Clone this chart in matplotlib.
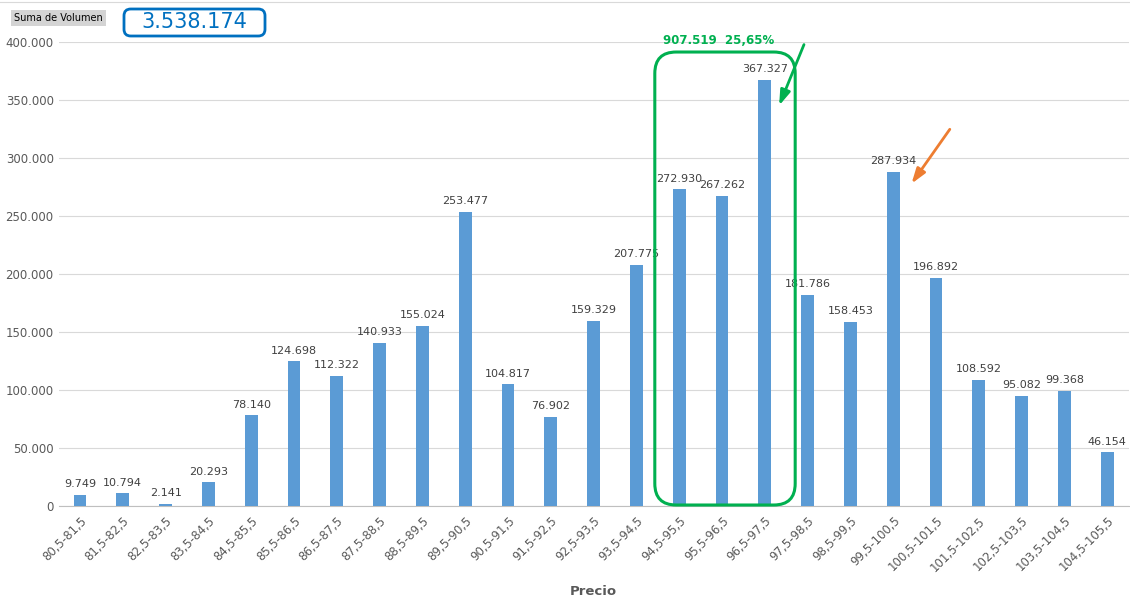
import matplotlib.pyplot as plt
from matplotlib.patches import FancyBboxPatch
from matplotlib.ticker import FuncFormatter

rangos = ['80,5-81,5', '81,5-82,5', '82,5-83,5', '83,5-84,5', '84,5-85,5',
          '85,5-86,5', '86,5-87,5', '87,5-88,5', '88,5-89,5', '89,5-90,5',
          '90,5-91,5', '91,5-92,5', '92,5-93,5', '93,5-94,5', '94,5-95,5',
          '95,5-96,5', '96,5-97,5', '97,5-98,5', '98,5-99,5', '99,5-100,5',
          '100,5-101,5', '101,5-102,5', '102,5-103,5', '103,5-104,5', '104,5-105,5']
volumen = [9749, 10794, 2141, 20293, 78140, 124698, 112322, 140933, 155024, 253477,
           104817, 76902, 159329, 207775, 272930, 267262, 367327, 181786, 158453, 287934,
           196892, 108592, 95082, 99368, 46154]
destacados = [14, 15, 16]


def miles(v):
    return f'{int(round(v)):,}'.replace(',', '.')


total = sum(volumen)
suma_dest = sum(volumen[i] for i in destacados)
pct = f'{suma_dest / total * 100:.2f}'.replace('.', ',')

W, H = 1130, 604
fig = plt.figure(figsize=(W / 100, H / 100), dpi=100)
ax = fig.add_axes([58.6 / W, 1 - 506 / H, 1070 / W, 464 / H])

x = list(range(len(rangos)))
ax.bar(x, volumen, width=0.3, color='#5B9BD5', zorder=3)
for xi, v in zip(x, volumen):
    ax.text(xi, v + 5000, miles(v), ha='center', va='bottom', fontsize=8, color='#404040')

ax.set_xlim(-0.5, len(rangos) - 0.5)
ax.set_ylim(0, 400000)
ax.set_yticks(range(0, 400001, 50000))
ax.yaxis.set_major_formatter(FuncFormatter(lambda v, p: miles(v)))
ax.grid(axis='y', color='#D9D9D9', linewidth=0.8, zorder=0)
for s in ['top', 'right', 'left']:
    ax.spines[s].set_visible(False)
ax.spines['bottom'].set_color('#BFBFBF')
ax.tick_params(axis='both', length=0, labelsize=8.5, colors='#595959')
ax.set_xticks(x)
ax.set_xticklabels(rangos, rotation=45, ha='right', rotation_mode='anchor')
ax.tick_params(axis='x', pad=6)
ax.set_xlabel('Precio', fontsize=9.5, fontweight='bold', color='#595959', labelpad=8)

# recuadro verde alrededor de los destacados
aspecto = (400000 / 464) * (1070 / 25)
caja = FancyBboxPatch((destacados[0] - 0.57, 860), len(destacados) - 1 + 1.28, 390500,
                      boxstyle='round,pad=0,rounding_size=0.5', mutation_aspect=aspecto,
                      fill=False, edgecolor='#00B050', linewidth=2.2, clip_on=False, zorder=4)
ax.add_patch(caja)
ax.text(destacados[1] - 0.08, 401500, f'{miles(suma_dest)}  {pct}%', ha='center', va='center',
        fontsize=8.5, fontweight='bold', color='#00B050', clip_on=False)

ax.annotate('', xy=(16.31, 343000), xytext=(16.94, 400000),
            arrowprops=dict(arrowstyle='-|>,head_length=0.9,head_width=0.3', color='#00B050', lw=2),
            annotation_clip=False)
ax.annotate('', xy=(19.39, 275900), xytext=(20.36, 326700),
            arrowprops=dict(arrowstyle='-|>,head_length=0.9,head_width=0.3', color='#ED7D31', lw=2),
            annotation_clip=False)

# etiquetas de la tabla dinamica
fig.text(14 / W, 1 - 18 / H, 'Suma de Volumen', fontsize=7, color='#000000', va='center',
         bbox=dict(boxstyle='square,pad=0.3', facecolor='#D4D4D4', edgecolor='none'))
fig.add_artist(FancyBboxPatch((124 / W, 1 - 36 / H), 141 / W, 27 / H,
                              boxstyle='round,pad=0,rounding_size=0.006',
                              mutation_aspect=W / H, transform=fig.transFigure,
                              facecolor='white', edgecolor='#0070C0', linewidth=2))
fig.text(194 / W, 1 - 22.5 / H, miles(total), fontsize=15, color='#0070C0',
         ha='center', va='center')
fig.add_artist(plt.Line2D([0, 1], [1 - 2 / H, 1 - 2 / H], color='#D9D9D9', lw=0.8))

fig.savefig('out.png', dpi=100)
